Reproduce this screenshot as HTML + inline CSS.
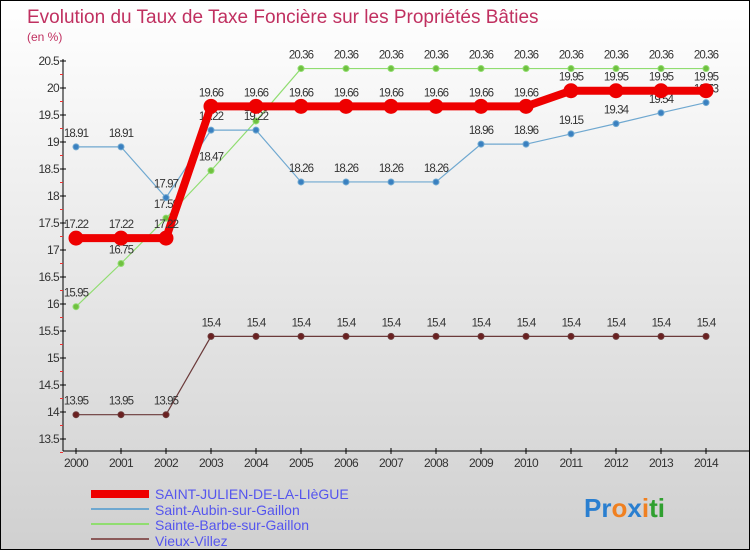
<!DOCTYPE html>
<html><head><meta charset="utf-8"><style>
body{margin:0}
#c{width:750px;height:550px;position:relative;overflow:hidden;border:1px solid #000;box-sizing:border-box;background:linear-gradient(#ffffff,#d0d0d0);font-family:"Liberation Sans",sans-serif}
svg text{font-family:"Liberation Sans",sans-serif}
</style></head><body>
<div id="c">
<svg id="s" width="750" height="550">
<text x="26" y="22" font-size="19" fill="#c03060">Evolution du Taux de Taxe Foncière sur les Propriétés Bâties</text>
<text x="26" y="40" font-size="12" fill="#c03060">(en %)</text>
<g id="axes"></g><g id="series"></g>
<g>
<rect x="90" y="489" width="58" height="8" fill="#e00"/>
<text x="154" y="498" font-size="14" fill="#5555ee">SAINT-JULIEN-DE-LA-LIèGUE</text>
<rect x="90" y="507" width="58" height="2" fill="#6fa8d0"/>
<text x="154" y="514" font-size="14" fill="#5555ee">Saint-Aubin-sur-Gaillon</text>
<rect x="90" y="522" width="58" height="2" fill="#90dd70"/>
<text x="154" y="529" font-size="14" fill="#5555ee">Sainte-Barbe-sur-Gaillon</text>
<rect x="90" y="537" width="58" height="2" fill="#8b5a5a"/>
<text x="154" y="545" font-size="14" fill="#5555ee">Vieux-Villez</text>
</g>
<text x="583" y="516" font-size="26" font-weight="bold"><tspan fill="#2a7fd0">Pr</tspan><tspan fill="#f08020">o</tspan><tspan fill="#2a7fd0">x</tspan><tspan fill="#f08020">i</tspan><tspan fill="#30a030">ti</tspan></text>
</svg></div>
<script>
const years=[2000,2001,2002,2003,2004,2005,2006,2007,2008,2009,2010,2011,2012,2013,2014];
const yTicks=[13.5,14,14.5,15,15.5,16,16.5,17,17.5,18,18.5,19,19.5,20,20.5];
const stJulien=[17.22,17.22,17.22,19.66,19.66,19.66,19.66,19.66,19.66,19.66,19.66,19.95,19.95,19.95,19.95];
const stAubin=[18.91,18.91,17.97,19.22,19.22,18.26,18.26,18.26,18.26,18.96,18.96,19.15,19.34,19.54,19.73];
const steBarbe=[15.95,16.75,17.59,18.47,19.39,20.36,20.36,20.36,20.36,20.36,20.36,20.36,20.36,20.36,20.36];
const vieuxVillez=[13.95,13.95,13.95,15.4,15.4,15.4,15.4,15.4,15.4,15.4,15.4,15.4,15.4,15.4,15.4];
const NS="http://www.w3.org/2000/svg";
const X=i=>75+i*45, Y=v=>438-(v-13.5)*54;
function mk(p,t,a){const e=document.createElementNS(NS,t);for(const k in a)e.setAttribute(k,a[k]);p.appendChild(e);return e;}
const ax=document.getElementById('axes');
let l=mk(ax,'line',{x1:62,y1:58,x2:62,y2:450,stroke:'#000'});


l=mk(ax,'line',{x1:62,y1:450,x2:750,y2:450,stroke:'#000'});


yTicks.forEach(v=>{const y=Y(v);mk(ax,'line',{x1:59,y1:y,x2:65,y2:y,stroke:'#000'});
mk(ax,'line',{x1:59,y1:y+13.5,x2:62,y2:y+13.5,stroke:'#e33'});
const t=mk(ax,'text',{x:58,y:y+4,'font-size':12,'text-anchor':'end',fill:'#333','letter-spacing':'-0.7'});t.textContent=v;

});
years.forEach((yr,i)=>{mk(ax,'line',{x1:X(i),y1:447,x2:X(i),y2:453,stroke:'#000'});
const t=mk(ax,'text',{x:X(i),y:466,'font-size':12,'text-anchor':'middle',fill:'#333','letter-spacing':'-0.7'});t.textContent=yr;

});
const sg=document.getElementById('series');
function draw(data,color,w,r,dot,name){
const g=mk(sg,'g',{});


const pl=mk(g,'polyline',{points:data.map((v,i)=>X(i)+','+Y(v)).join(' '),fill:'none',stroke:color,'stroke-width':w});


data.forEach((v,i)=>{const c=mk(g,'circle',{cx:X(i),cy:Y(v),r:r,fill:dot,stroke:color,'stroke-width':1});


const t=mk(g,'text',{x:X(i),y:Y(v)-10,'font-size':11.5,'text-anchor':'middle',fill:'#333','letter-spacing':'-0.9'});t.textContent=v;

});}
draw(vieuxVillez,'#6b3a3a',1.2,3,'#6b2020','vieux-villez');
draw(steBarbe,'#90dd70',1.2,3,'#70c040','sainte-barbe');
draw(stAubin,'#6fa8d0',1.2,3,'#3a80c0','saint-aubin');
draw(stJulien,'#e00',8,7,'#e00','saint-julien');
</script>
</body></html>
